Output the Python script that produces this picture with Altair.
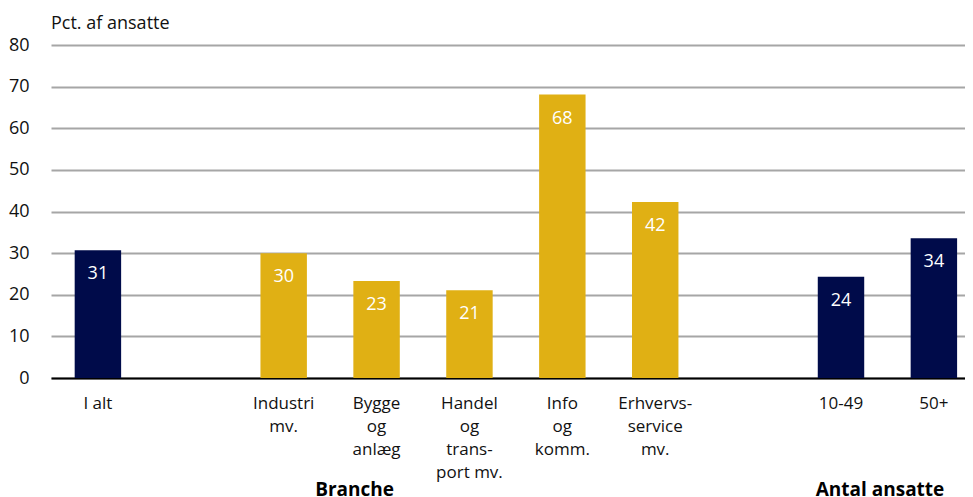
import altair as alt
import pandas as pd

# Slots on the x axis (blank slots separate the groups)
slots = ["I alt", " ", "Industri\nmv.", "Bygge\nog\nanlæg", "Handel\nog\ntrans-\nport mv.",
         "Info\nog\nkomm.", "Erhvervs-\nservice\nmv.", "  ", "10-49", "50+"]

bar_categories = ["I alt", "Industri\nmv.", "Bygge\nog\nanlæg", "Handel\nog\ntrans-\nport mv.",
                  "Info\nog\nkomm.", "Erhvervs-\nservice\nmv.", "10-49", "50+"]
bar_values = [30.7, 30.0, 23.3, 21.1, 68.1, 42.3, 24.3, 33.6]
bar_groups = ["I alt", "Branche", "Branche", "Branche", "Branche", "Branche", "Antal ansatte", "Antal ansatte"]

group_titles = ["Branche", "Antal ansatte"]
group_anchor = ["Bygge\nog\nanlæg", "10-49"]
group_dx = [-22, 39]

y_ticks = [0, 10, 20, 30, 40, 50, 60, 70, 80]

NAVY = "#000B4A"
GOLD = "#E0B014"
FONT = "Open Sans"

bars_df = pd.DataFrame({"cat": bar_categories, "value": bar_values, "group": bar_groups})

xscale = alt.Scale(domain=slots, paddingInner=0.5, paddingOuter=0.17, align=0.75)

x = alt.X("cat:N", scale=xscale, sort=slots, title=None,
          axis=alt.Axis(labelExpr="split(datum.label, '\\n')", labelAngle=0,
                        ticks=False, domain=True, domainColor="#000000", domainWidth=2,
                        labelPadding=17, labelLineHeight=23.3, labelFontSize=17,
                        labelFont=FONT, labelColor="#111111", labelBaseline="top"))

y = alt.Y("value:Q", scale=alt.Scale(domain=[0, 80]), title=None,
          axis=alt.Axis(values=y_ticks, ticks=False, domain=False, grid=True,
                        gridColor="#A6A6A6", gridWidth=2, labelPadding=22,
                        labelFontSize=18, labelFont=FONT, labelColor="#111111"))

color = alt.Color("group:N", scale=alt.Scale(domain=["I alt", "Branche", "Antal ansatte"],
                                              range=[NAVY, GOLD, NAVY]), legend=None)

bars = alt.Chart(bars_df).mark_bar().encode(x=x, y=y, color=color)

labels = alt.Chart(bars_df).mark_text(color="white", font=FONT, fontSize=18,
                                      baseline="middle", dy=24).encode(
    x=alt.X("cat:N", scale=xscale, sort=slots),
    y=alt.Y("value:Q"),
    text=alt.Text("value:Q", format=".0f"))

gtitle_layers = []
for t, c, d in zip(group_titles, group_anchor, group_dx):
    gtitle_layers.append(
        alt.Chart(pd.DataFrame({"title": [t], "cat": [c]})).mark_text(
            font=FONT, fontSize=19, fontWeight="bold", color="#000000",
            baseline="alphabetic", dx=d).encode(
            x=alt.X("cat:N", scale=xscale, sort=slots),
            y=alt.value(451),
            text="title:N"))

chart = alt.layer(bars, labels, *gtitle_layers).properties(
    width=914, height=333,
    title=alt.TitleParams("Pct. af ansatte", anchor="start", frame="group",
                          font=FONT, fontSize=18, fontWeight="normal", color="#111111",
                          offset=3),
    padding={"left": 0, "top": 7, "right": 0, "bottom": 0},
).configure_view(stroke=None)

chart.save("out.html", embed_options={"renderer": "svg", "actions": False})
